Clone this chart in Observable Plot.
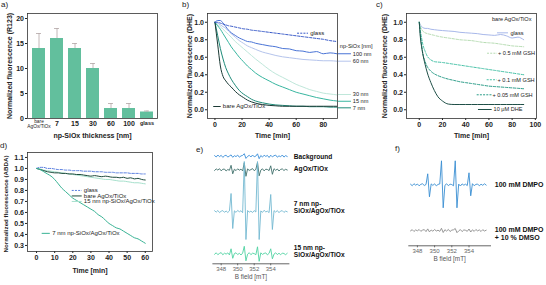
<!DOCTYPE html>
<html><head><meta charset="utf-8">
<script src="https://cdn.jsdelivr.net/npm/d3@7"></script>
<script src="https://cdn.jsdelivr.net/npm/@observablehq/plot@0.6"></script>
<style>
body{margin:0;background:#fff;}
#root{position:relative;width:546px;height:285px;overflow:hidden;font-family:"Liberation Sans",Arial,sans-serif;}
.panel{position:absolute;}
.panel svg{display:block;max-width:none;overflow:visible;background:transparent;}
.lbl{position:absolute;font-size:8px;line-height:9px;color:#222;}
</style></head><body><div id="root"></div>
<script>
// ---------- data: panel a ----------
const thickness = ["bare\nAgOx/TiOx", "7", "15", "30", "60", "100", "glass"];
const r123 = [14, 16, 14, 10, 2, 2, 1.3];
const r123Err = [3, 2, 1, 1, 1, 1, 0.2];

// ---------- data: panel b (DHE, np-SiOx thickness) ----------
const tB = [0,2,4,6,8,10,12,15,18,21,24,27,30,35,40,45,50,55,60,65,70,75,80,85,90];
const glassB = [1.0,1.0,0.99,0.98,0.97,0.96,0.955,0.945,0.935,0.925,0.92,0.91,0.905,0.895,0.885,0.875,0.865,0.855,0.845,0.835,0.825,0.815,0.805,0.79,0.78];
const nm100B = [1.0,1.02,1.02,0.99,0.95,0.91,0.88,0.85,0.82,0.8,0.78,0.775,0.76,0.745,0.73,0.72,0.7,0.695,0.675,0.67,0.655,0.665,0.64,0.65,0.64];
const nm60B = [1.0,0.99,0.97,0.95,0.93,0.9,0.87,0.83,0.79,0.76,0.73,0.71,0.69,0.66,0.64,0.62,0.605,0.595,0.585,0.575,0.57,0.565,0.56,0.56,0.555];
const nm30B = [1.0,0.97,0.95,0.92,0.89,0.86,0.83,0.78,0.74,0.7,0.66,0.62,0.58,0.52,0.46,0.41,0.37,0.33,0.29,0.26,0.23,0.21,0.19,0.18,0.17];
const nm15B = [1.0,0.96,0.92,0.87,0.82,0.77,0.72,0.66,0.6,0.55,0.5,0.46,0.42,0.37,0.33,0.29,0.26,0.23,0.2,0.18,0.16,0.14,0.125,0.11,0.1];
const nm7B = [1.0,0.85,0.7,0.58,0.48,0.41,0.35,0.28,0.22,0.18,0.15,0.12,0.1,0.08,0.065,0.055,0.05,0.045,0.04,0.04,0.035,0.035,0.035,0.03,0.03];
const bareB = [1.0,0.75,0.5,0.38,0.33,0.29,0.26,0.21,0.17,0.14,0.11,0.09,0.075,0.06,0.05,0.045,0.04,0.04,0.04,0.04,0.04,0.04,0.04,0.04,0.04];

// ---------- data: panel c (DHE, bare AgOx/TiOx + GSH) ----------
const tC = [0,1,2,3,5,7,10,13,16,20,25,30,35,40,45,50,55,60,65,70,75,80,85,90];
const glassC = [1.0,0.97,0.95,0.94,0.93,0.93,0.92,0.915,0.91,0.905,0.9,0.895,0.885,0.88,0.875,0.87,0.86,0.855,0.85,0.86,0.845,0.82,0.83,0.8];
const gsh05C = [1.0,0.95,0.92,0.9,0.88,0.87,0.86,0.85,0.84,0.83,0.82,0.81,0.8,0.795,0.79,0.78,0.77,0.765,0.76,0.75,0.74,0.73,0.725,0.72];
const gsh01C = [1.0,0.9,0.82,0.75,0.67,0.61,0.57,0.55,0.545,0.54,0.53,0.52,0.51,0.5,0.49,0.48,0.47,0.46,0.45,0.44,0.43,0.42,0.41,0.4];
const gsh005C = [1.0,0.85,0.74,0.65,0.55,0.49,0.44,0.41,0.39,0.37,0.35,0.335,0.32,0.31,0.3,0.29,0.28,0.27,0.265,0.26,0.255,0.25,0.245,0.24];
const dheC = [1.0,0.82,0.72,0.64,0.52,0.42,0.31,0.22,0.15,0.1,0.065,0.06,0.06,0.06,0.06,0.06,0.06,0.06,0.06,0.06,0.06,0.06,0.06,0.06];

// ---------- data: panel d (ABDA) ----------
const tD = [0,2,4,6,8,10,12,14,16,18,20,22,24,26,28,30,32,34,36,38,40,42,44,46,48,50,52,54,56,58,60];
const glassD = [1.0,1.01,1.01,1.0,1.0,0.995,0.99,0.99,0.985,0.985,0.98,0.98,0.98,0.975,0.975,0.975,0.97,0.97,0.97,0.965,0.965,0.965,0.96,0.96,0.96,0.96,0.955,0.955,0.955,0.95,0.95];
const bareD = [1.0,0.99,0.98,0.97,0.965,0.96,0.96,0.955,0.955,0.95,0.95,0.945,0.945,0.94,0.935,0.93,0.935,0.93,0.925,0.93,0.925,0.92,0.92,0.915,0.92,0.91,0.915,0.905,0.91,0.9,0.895];
const nm15D = [1.0,0.995,0.985,0.98,0.975,0.97,0.965,0.96,0.955,0.95,0.945,0.94,0.935,0.93,0.925,0.92,0.915,0.91,0.905,0.9,0.9,0.895,0.89,0.885,0.885,0.88,0.875,0.87,0.87,0.865,0.86];
const nm7D = [1.0,0.99,0.97,0.95,0.93,0.9,0.86,0.82,0.79,0.76,0.73,0.71,0.69,0.67,0.65,0.63,0.61,0.58,0.56,0.53,0.5,0.48,0.46,0.45,0.43,0.41,0.39,0.37,0.36,0.34,0.32];

// ---------- data: panels e, f (EPR spectra, arbitrary intensity) ----------
const field = [347.2,347.4,347.6,347.8,348.0,348.2,348.4,348.6,348.8,349.0,349.2,349.4,349.6,349.8,350.0,350.2,350.4,350.6,350.8,351.0,351.2,351.4,351.6,351.8,352.0,352.2,352.4,352.6,352.8,353.0,353.2,353.4,353.6,353.8,354.0,354.2,354.4,354.6,354.8,355.0,355.2,355.4,355.6,355.8,356.0];
const eprBackground = [0.6,-0.8,1.2,-0.5,0.9,-1.2,0.4,1.0,-0.9,0.2,1.3,-1.1,0.5,-0.4,1.1,-1.0,0.3,0.8,2.5,-2.2,-0.2,0.9,-0.8,1.2,-0.6,0.1,2.4,-2.5,0.7,-0.9,1.0,-0.2,0.8,-1.3,1.0,-0.7,0.5,1.1,-1.0,0.4,-0.6,1.2,-0.9,0.6,-0.3];
const eprAgOx = [-0.7,0.9,-0.3,1.1,-1.0,0.5,0.8,-1.2,0.3,-0.5,4.5,-4.0,0.6,-0.8,1.0,-0.4,0.7,-1.1,7.0,-6.5,0.9,-0.6,0.2,1.2,-0.9,0.4,7.5,-6.0,-0.3,1.0,-1.1,0.6,0.3,-0.8,4.0,-4.5,1.1,-0.5,0.8,-1.2,0.4,0.9,-0.7,0.5,-0.2];
const epr7nm = [0.8,-0.6,1.0,-1.1,0.3,0.9,-0.8,0.5,-1.0,0.6,18,-17,0.7,-0.9,1.1,-0.3,0.8,-1.2,50,-28,1.0,-0.7,0.4,-1.0,0.9,-0.5,50,-28,0.6,-0.9,1.2,-0.4,0.3,-1.1,17,-18,0.9,-0.6,1.0,-1.2,0.5,0.8,-0.9,0.4,-0.3];
const epr15nm = [-0.5,1.0,-0.9,0.4,1.2,-1.0,0.6,-0.3,0.9,-1.1,5.0,-4.5,0.3,1.0,-0.8,0.5,-1.2,0.7,7.5,-7.0,-0.4,1.1,-0.9,0.6,0.2,-1.0,7.0,-7.5,1.0,-0.6,0.4,0.9,-1.1,0.5,5.0,-5.0,-0.3,1.0,-0.8,0.6,-1.0,0.7,0.3,-0.9,0.5];
const eprDMPO = [0.6,-0.9,1.1,-0.4,0.8,-1.0,0.5,1.0,-0.7,0.3,11,-12,0.9,-0.6,1.0,-1.1,0.4,0.8,24,-23,-0.5,1.0,-0.9,0.6,0.2,-1.0,24,-23,0.7,-1.2,0.9,-0.4,0.6,-0.8,12,-11,1.1,-0.9,0.4,0.8,-1.0,0.6,-0.5,1.0,-0.3];
const eprDMSO = [-0.4,0.8,-1.0,0.6,-0.3,1.0,-0.8,0.4,0.9,-1.1,1.6,-1.4,0.5,-0.7,1.0,-0.5,0.3,-0.9,2.2,-2.0,0.8,-0.6,1.1,-1.0,0.4,0.7,2.0,-2.2,-0.4,0.9,-1.1,0.6,0.2,-0.8,1.5,-1.5,0.7,-0.9,1.0,-0.4,0.6,-1.0,0.8,-0.5,0.3];

// ---------- helpers ----------
const root = document.getElementById("root");
function place(svg, left, top) {
  const d = document.createElement("div");
  d.className = "panel"; d.style.left = left + "px"; d.style.top = top + "px";
  d.appendChild(svg); root.appendChild(d);
}
function tag(text, left, top) {
  const d = document.createElement("div");
  d.className = "lbl"; d.textContent = text; d.style.left = left + "px"; d.style.top = top + "px";
  root.appendChild(d);
}
const FONT = '"Liberation Sans", Arial, sans-serif';
const baseStyle = {fontFamily: FONT, fontSize: "7px", fontWeight: "bold", color: "#222", background: "transparent", overflow: "visible"};
const zip = (xs, vs) => xs.map((x, i) => ({x, v: vs[i]}));
const curve = (xs, vs, stroke, o = {}) => Plot.line(zip(xs, vs), {x: "x", y: "v", stroke, strokeWidth: 1, curve: "monotone-x", ...o});
const label = (s, x, y, o = {}) => Plot.text([s], {x: () => x, y: () => y, text: d => d, textAnchor: "start", fontWeight: "normal", fontSize: 6, fill: "#222", ...o});
const swatch = (x1, x2, y, stroke, o = {}) => Plot.ruleY([y], {x1: () => x1, x2: () => x2, y: d => d, stroke, strokeWidth: 1, ...o});
const ytitle = (s, dx, fs = 7, dy = 0) => Plot.text([s], {frameAnchor: "left", textAnchor: "middle", lineAnchor: "middle", rotate: -90, dx, dy, text: d => d, fontSize: fs, fontWeight: "bold", fill: "#222"});
const xtitle = (s, dy, o = {}) => Plot.text([s], {frameAnchor: "bottom", textAnchor: "middle", lineAnchor: "middle", dy, text: d => d, fontSize: 7, fontWeight: "bold", fill: "#222", ...o});
const frame = () => Plot.frame({stroke: "#333", strokeWidth: 0.8});

// ---------- panel a ----------
const dataA = thickness.map((k, i) => ({k, v: r123[i], e: r123Err[i]}));
place(Plot.plot({
  width: 180, height: 145, marginLeft: 27, marginRight: 23, marginTop: 13, marginBottom: 27,
  style: baseStyle,
  x: {domain: thickness, paddingInner: 0.3, paddingOuter: 0.15, axis: null},
  y: {domain: [0, 21], ticks: [0, 5, 10, 15, 20], tickSize: 2, tickPadding: 1.5, label: null},
  marks: [
    Plot.barY(dataA, {x: "k", y: "v", fill: "#62bf9d"}),
    Plot.ruleX(dataA, {x: "k", y1: "v", y2: d => d.v + d.e, stroke: "#b3a6a6", strokeWidth: 0.8}),
    Plot.tickY(dataA, {x: "k", y: d => d.v + d.e, stroke: "#b3a6a6", strokeWidth: 0.8, insetLeft: 4, insetRight: 4}),
    frame(),
    Plot.text(dataA.filter(d => !/bare|glass/.test(d.k)), {x: "k", text: "k", frameAnchor: "bottom", textAnchor: "middle", lineAnchor: "middle", dy: 5, fontSize: 7, fontWeight: "bold", fill: "#222"}),
    Plot.text(dataA.filter(d => /glass/.test(d.k)), {x: "k", text: "k", frameAnchor: "bottom", textAnchor: "middle", lineAnchor: "middle", dy: 5, fontSize: 5.5, fontWeight: "bold", fill: "#222"}),
    Plot.text(dataA.filter(d => /bare/.test(d.k)), {x: "k", text: "k", frameAnchor: "bottom", textAnchor: "middle", lineAnchor: "top", dy: 0.5, fontSize: 4.8, fontWeight: "normal", lineHeight: 1.05, fill: "#222"}),
    ytitle("Normalized fluorescence (R123)", -17.5),
    xtitle("np-SiOx thickness [nm]", 17)
  ]
}), 0, 0);

// ---------- panel b ----------
const cB = {glass: "#3658c8", n100: "#4a74d6", n60: "#b5c4ec", n30: "#bfe7da", n15: "#38b6a0", n7: "#1f8c7a", bare: "#1b3a35"};
place(Plot.plot({
  width: 190, height: 145, marginLeft: 27, marginRight: 33, marginTop: 13, marginBottom: 27,
  style: baseStyle,
  x: {domain: [-5.5, 90.5], ticks: [0, 20, 40, 60, 80], tickSize: 2, tickPadding: 1.5, label: null},
  y: {domain: [-0.1, 1.1], ticks: [0, 0.2, 0.4, 0.6, 0.8, 1.0], tickFormat: ".1f", tickSize: 2, tickPadding: 1.5, label: null},
  marks: [
    curve(tB, nm30B, cB.n30),
    curve(tB, nm60B, cB.n60),
    curve(tB, nm15B, cB.n15),
    curve(tB, nm100B, cB.n100),
    curve(tB, nm7B, cB.n7),
    curve(tB, bareB, cB.bare),
    curve(tB, glassB, cB.glass, {strokeDasharray: "2.5,1.5"}),
    frame(),
    swatch(61, 69.1, 0.875, cB.glass, {strokeDasharray: "2,1.2"}),
    label("glass", 70.3, 0.875),
    label("np-SiOx [nm]", 92.2, 0.731, {fontSize: 5.6}),
    swatch(91.2, 100.8, 0.64, cB.n100), label("100 nm", 101.8, 0.64, {fontSize: 5.6}),
    swatch(91.2, 100.8, 0.555, cB.n60), label("60 nm", 101.8, 0.555, {fontSize: 5.6}),
    swatch(91.2, 100.8, 0.174, cB.n30), label("30 nm", 101.8, 0.174, {fontSize: 5.6}),
    swatch(91.2, 100.8, 0.097, cB.n15), label("15 nm", 101.8, 0.097, {fontSize: 5.6}),
    swatch(91.2, 100.8, 0.022, cB.n7), label("7 nm", 101.8, 0.022, {fontSize: 5.6}),
    swatch(-0.9, 4.6, 0.037, cB.bare), label("bare AgOx/TiOx", 5.8, 0.037),
    ytitle("Normalized fluorescence (DHE)", -18),
    xtitle("Time [min]", 17)
  ]
}), 180, 0);

// ---------- panel c ----------
const cC = {glass: "#a8b8ea", g05: "#b6dcb2", g01: "#48c2a8", g005: "#2a9c88", dhe: "#1f4f47"};
place(Plot.plot({
  width: 176, height: 145, marginLeft: 36, marginRight: 10, marginTop: 13, marginBottom: 27,
  style: baseStyle,
  x: {domain: [-11, 101], ticks: [0, 20, 40, 60, 80, 100], tickSize: 2, tickPadding: 1.5, label: null},
  y: {domain: [-0.1, 1.1], ticks: [0, 0.2, 0.4, 0.6, 0.8, 1.0], tickFormat: ".1f", tickSize: 2, tickPadding: 1.5, label: null},
  marks: [
    curve(tC, glassC, cC.glass),
    curve(tC, gsh05C, cC.g05, {strokeDasharray: "2.5,1.5"}),
    curve(tC, gsh01C, cC.g01, {strokeDasharray: "2.5,1.5"}),
    curve(tC, gsh005C, cC.g005, {strokeDasharray: "2.5,1.5"}),
    curve(tC, dheC, cC.dhe),
    frame(),
    label("bare AgOx/TiOx", 96.7, 1.031, {textAnchor: "end", fontSize: 5.6}),
    swatch(67.4, 76.9, 0.879, cC.glass), label("glass", 78.6, 0.879, {fontSize: 5.6}),
    swatch(58.8, 67.4, 0.646, cC.g05, {strokeDasharray: "2,1.2"}), label("+ 0.5 mM GSH", 67.8, 0.646, {fontSize: 5.6}),
    swatch(58.5, 67.1, 0.343, cC.g01, {strokeDasharray: "2,1.2"}), label("+ 0.1 mM GSH", 67.4, 0.343, {fontSize: 5.6}),
    swatch(49.9, 62.8, 0.171, cC.g005, {strokeDasharray: "2,1.2"}), label("+ 0.05 mM GSH", 63, 0.171, {fontSize: 5.6}),
    swatch(51, 62.8, 0.003, cC.dhe), label("10 μM DHE", 64, 0.003, {fontSize: 5.6}),
    ytitle("Normalized fluorescence (DHE)", -22),
    xtitle("Time [min]", 17)
  ]
}), 370, 0);

// ---------- panel d ----------
const cD = {glass: "#5a7fe0", bare: "#1e4a3c", n15: "#a6e0cc", n7: "#38b394"};
place(Plot.plot({
  width: 180, height: 145, marginLeft: 27, marginRight: 28, marginTop: 12, marginBottom: 34,
  style: baseStyle,
  x: {domain: [-5, 64], ticks: [0, 10, 20, 30, 40, 50, 60], tickSize: 2, tickPadding: 1.5, label: null},
  y: {domain: [0.245, 1.145], ticks: [0.3, 0.4, 0.5, 0.6, 0.7, 0.8, 0.9, 1.0, 1.1], tickFormat: ".1f", tickSize: 2, tickPadding: 1.5, label: null},
  marks: [
    curve(tD, nm15D, cD.n15),
    curve(tD, bareD, cD.bare),
    curve(tD, glassD, cD.glass, {strokeDasharray: "2.5,1.5"}),
    curve(tD, nm7D, cD.n7),
    frame(),
    swatch(19.7, 25.2, 0.8, cD.glass, {strokeDasharray: "2,1.2"}), label("glass", 26.1, 0.8),
    swatch(19.7, 25.2, 0.75, cD.bare), label("bare AgOx/TiOx", 26.1, 0.75),
    swatch(19.7, 25.2, 0.7, cD.n15), label("15 nm np-SiOx/AgOx/TiOx", 26.1, 0.7),
    swatch(3.1, 7.6, 0.41, cD.n7), label("7 nm np-SiOx/AgOx/TiOx", 8.6, 0.41),
    ytitle("Normalized fluorescence (ABDA)", -21, 6.2, 2),
    xtitle("Time [min]", 19)
  ]
}), 0, 140);

// ---------- panel e ----------
const eprStyle = {...baseStyle, fontWeight: "normal", fontSize: "6px", color: "#666"};
const eTraces = [
  {v: eprBackground, off: 107.6, c: "#3b8fd9"},
  {v: eprAgOx, off: 94, c: "#406f6b"},
  {v: epr7nm, off: 52.3, c: "#74b9d1"},
  {v: epr15nm, off: 10, c: "#4fd3a2"}
];
place(Plot.plot({
  width: 170, height: 145, marginLeft: 12.4, marginRight: 81.6, marginTop: 10, marginBottom: 21.7,
  style: eprStyle,
  x: {domain: [347, 356.2], ticks: [348, 350, 352, 354], tickSize: 2, tickPadding: 1, line: true, label: null},
  y: {domain: [0, 113.3], axis: null},
  marks: [
    ...eTraces.map(s => Plot.line(zip(field, s.v), {x: "x", y: d => d.v + s.off, stroke: s.c, strokeWidth: 0.9})),
    label("Background", 356.8, 107, {fontWeight: "bold", fontSize: 6.6, fill: "#111"}),
    label("AgOx/TiOx", 356.8, 95, {fontWeight: "bold", fontSize: 6.6, fill: "#111"}),
    label("7 nm np-\nSiOx/AgOx/TiOx", 356.8, 56.3, {fontWeight: "bold", fontSize: 6.6, fill: "#111", lineHeight: 1.1}),
    label("15 nm np-\nSiOx/AgOx/TiOx", 356.8, 12.5, {fontWeight: "bold", fontSize: 6.6, fill: "#111", lineHeight: 1.1}),
    xtitle("B field [mT]", 13.5, {fontWeight: "normal", fontSize: 6.4, fill: "#555"})
  ]
}), 200, 140);

// ---------- panel f ----------
const fTraces = [
  {v: eprDMPO, off: 61, c: "#3a8fd2"},
  {v: eprDMSO, off: 15.3, c: "#8c8c8c"}
];
place(Plot.plot({
  width: 176, height: 145, marginLeft: 38.3, marginRight: 56, marginTop: 10, marginBottom: 39.7,
  style: eprStyle,
  x: {domain: [347, 356.5], ticks: [348, 350, 352, 354], tickSize: 2, tickPadding: 1, line: true, label: null},
  y: {domain: [0, 95.3], axis: null},
  marks: [
    ...fTraces.map(s => Plot.line(zip(field, s.v), {x: "x", y: d => d.v + s.off, stroke: s.c, strokeWidth: 0.9})),
    label("100 mM DMPO", 357, 61, {fontWeight: "bold", fontSize: 7, fill: "#111"}),
    label("100 mM DMPO\n+ 10 % DMSO", 357, 12.8, {fontWeight: "bold", fontSize: 7, fill: "#111", lineHeight: 1.15}),
    xtitle("B field [mT]", 13.5, {fontWeight: "normal", fontSize: 6.4, fill: "#555"})
  ]
}), 370, 140);

// ---------- panel tags ----------
tag("a)", 1, 0); tag("b)", 182, 0); tag("c)", 376, 0);
tag("d)", 0, 141); tag("e)", 196, 145); tag("f)", 395, 144);
</script></body></html>
